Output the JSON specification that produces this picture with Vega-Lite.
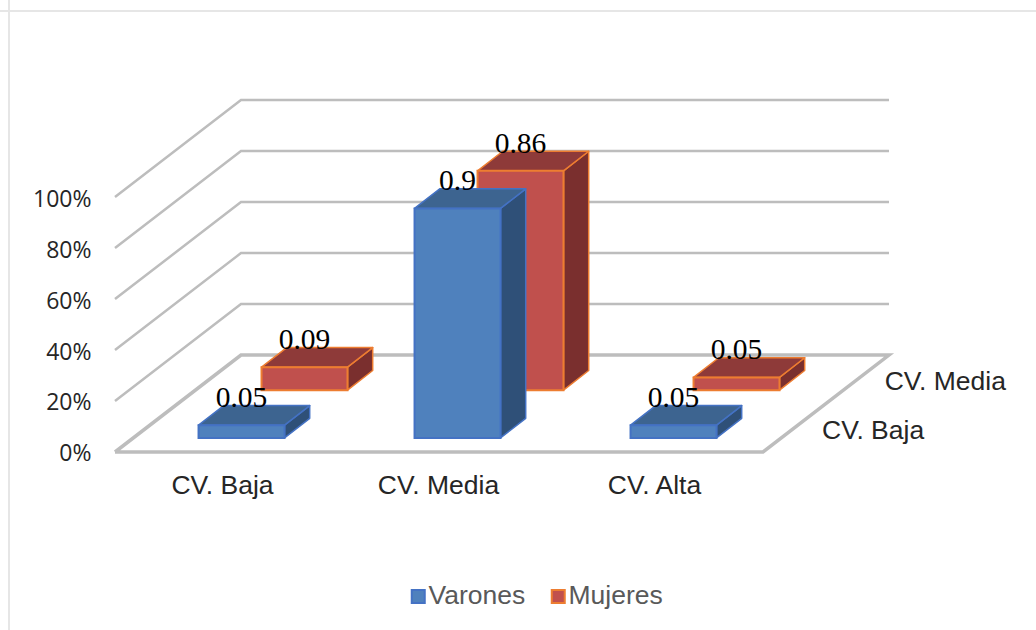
{
"$schema":"https://vega.github.io/schema/vega-lite/v6.json",
"width":1036,"height":630,"padding":0,"autosize":{"type":"none"},"background":"white",
"config":{"view":{"stroke":null}},
"datasets":{
"bars":[
{"category":"CV. Baja","series":"Varones","value":0.05},
{"category":"CV. Media","series":"Varones","value":0.9},
{"category":"CV. Alta","series":"Varones","value":0.05},
{"category":"CV. Baja","series":"Mujeres","value":0.09},
{"category":"CV. Media","series":"Mujeres","value":0.86},
{"category":"CV. Alta","series":"Mujeres","value":0.05}],
"walls":[
{"level":0.2,"position":0.5,"depth":0,"seq":1},{"level":0.2,"position":0.5,"depth":1,"seq":2},{"level":0.2,"position":3.5,"depth":1,"seq":3},
{"level":0.4,"position":0.5,"depth":0,"seq":1},{"level":0.4,"position":0.5,"depth":1,"seq":2},{"level":0.4,"position":3.5,"depth":1,"seq":3},
{"level":0.6,"position":0.5,"depth":0,"seq":1},{"level":0.6,"position":0.5,"depth":1,"seq":2},{"level":0.6,"position":3.5,"depth":1,"seq":3},
{"level":0.8,"position":0.5,"depth":0,"seq":1},{"level":0.8,"position":0.5,"depth":1,"seq":2},{"level":0.8,"position":3.5,"depth":1,"seq":3},
{"level":1.0,"position":0.5,"depth":0,"seq":1},{"level":1.0,"position":0.5,"depth":1,"seq":2},{"level":1.0,"position":3.5,"depth":1,"seq":3}],
"floor":[
{"level":0,"position":0.5,"depth":0,"seq":1},{"level":0,"position":3.5,"depth":0,"seq":2},{"level":0,"position":3.5,"depth":1,"seq":3},{"level":0,"position":0.5,"depth":1,"seq":4},{"level":0,"position":0.5,"depth":0,"seq":5}],
"depthLabels":[{"label":"CV. Baja","depth":0.143},{"label":"CV. Media","depth":0.64}]
},
"layer":[
{"data":{"values":[{}]},"mark":{"type":"rule","color":"#E6E6E6","strokeWidth":2},
 "encoding":{"y":{"datum":1.7294,"type":"quantitative","scale":{"domain":[-0.69804,1.77255]},"axis":{"title":null}}}},
{"data":{"values":[{}]},"mark":{"type":"rule","color":"#E6E6E6","strokeWidth":2},
 "encoding":{"x":{"datum":0.00926,"type":"quantitative","scale":{"domain":[-0.03241,4.76389]},"axis":{"title":null}}}},
{"data":{"name":"walls"},
 "transform":[{"calculate":"datum.position+0.5833*datum.depth","as":"px"},{"calculate":"datum.level+0.38*datum.depth","as":"py"}],
 "mark":{"type":"line","color":"#BDBDBD","strokeWidth":2.5,"strokeJoin":"miter"},
 "encoding":{
  "x":{"field":"px","type":"quantitative","scale":{"domain":[-0.03241,4.76389]},
   "axis":{"values":[1,2,3],"labelExpr":"datum.value==1?'CV. Baja':datum.value==2?'CV. Media':'CV. Alta'","domain":false,"ticks":false,"grid":false,"title":null,"offset":-158,"labelPadding":0,"labelOffset":-1,"labelFont":"Liberation Sans","labelFontSize":26.5,"labelColor":"#262626","labelOverlap":false,"labelFlush":false,"labelBound":false}},
  "y":{"field":"py","type":"quantitative","scale":{"domain":[-0.69804,1.77255]},
   "axis":{"values":[0,0.2,0.4,0.6,0.8,1],"format":".0%","domain":false,"ticks":false,"grid":false,"title":null,"offset":-95,"labelPadding":4,"labelOffset":2,"labelFont":"Open Sans","labelFontSize":23,"labelColor":"#262626","labelOverlap":false,"labelBound":false,"labelFlush":false}},
  "detail":{"field":"level"},
  "order":{"field":"seq"}}},
{"data":{"name":"floor"},
 "transform":[{"calculate":"datum.position+0.5833*datum.depth","as":"px"},{"calculate":"datum.level+0.38*datum.depth","as":"py"}],
 "mark":{"type":"line","color":"#BDBDBD","strokeWidth":3.5,"strokeJoin":"miter"},
 "encoding":{
  "x":{"field":"px","type":"quantitative","scale":{"domain":[-0.03241,4.76389]},"axis":{"title":null}},
  "y":{"field":"py","type":"quantitative","scale":{"domain":[-0.69804,1.77255]},"axis":{"title":null}},
  "order":{"field":"seq"}}},
{"data":{"name":"depthLabels"},
 "transform":[{"calculate":"3.5+0.5833*datum.depth","as":"px"},{"calculate":"0.3843*datum.depth","as":"py"}],
 "mark":{"type":"text","align":"left","baseline":"middle","dx":41,"dy":-7,"font":"Liberation Sans","fontSize":26.5,"color":"#262626"},
 "encoding":{
  "x":{"field":"px","type":"quantitative","scale":{"domain":[-0.03241,4.76389]},"axis":{"title":null}},
  "y":{"field":"py","type":"quantitative","scale":{"domain":[-0.69804,1.77255]},"axis":{"title":null}},
  "text":{"field":"label"}}},
{"data":{"name":"bars"},
 "transform":[
  {"calculate":"indexof(['CV. Baja','CV. Media','CV. Alta'],datum.category)+1","as":"idx"},
  {"calculate":"datum.series=='Varones'?0.147:0.647","as":"d"},
  {"calculate":"datum.idx+0.5833*datum.d","as":"xc"},
  {"calculate":"datum.xc-0.199","as":"xl"},
  {"calculate":"datum.xc+0.199","as":"xr"},
  {"calculate":"0.375*datum.d","as":"base"},
  {"calculate":"datum.base+datum.value","as":"top"},
  {"calculate":"[0,1]","as":"t"},
  {"flatten":["t"]},
  {"calculate":"datum.xr+0.5833*0.2*datum.t","as":"sx"},
  {"calculate":"datum.base+0.3843*0.2*datum.t","as":"sy"},
  {"calculate":"datum.top+0.3843*0.2*datum.t","as":"sy2"},
  {"calculate":"datum.xl+0.5833*0.2*datum.t","as":"tx"},
  {"calculate":"datum.xr+0.5833*0.2*datum.t","as":"tx2"}
 ],
 "layer":[
  {"transform":[{"filter":"datum.series=='Mujeres'"}],
   "mark":{"type":"area","orient":"vertical","fill":"#7A2F2E","stroke":"#ED7D31","strokeWidth":1.5,"strokeJoin":"round"},
   "encoding":{"x":{"field":"sx","type":"quantitative","scale":{"domain":[-0.03241,4.76389]},"axis":{"title":null}},
    "y":{"field":"sy","type":"quantitative","scale":{"domain":[-0.69804,1.77255]},"axis":{"title":null},"stack":null},"y2":{"field":"sy2"},"detail":{"field":"category"}}},
  {"transform":[{"filter":"datum.series=='Mujeres'"}],
   "mark":{"type":"area","orient":"horizontal","fill":"#8E3A39","stroke":"#ED7D31","strokeWidth":1.5,"strokeJoin":"round"},
   "encoding":{"y":{"field":"sy2","type":"quantitative","scale":{"domain":[-0.69804,1.77255]},"axis":{"title":null}},
    "x":{"field":"tx","type":"quantitative","scale":{"domain":[-0.03241,4.76389]},"axis":{"title":null},"stack":null},"x2":{"field":"tx2"},"detail":{"field":"category"}}},
  {"transform":[{"filter":"datum.series=='Mujeres'&&datum.t==0"}],
   "mark":{"type":"rect","strokeWidth":2},
   "encoding":{"x":{"field":"xl","type":"quantitative","scale":{"domain":[-0.03241,4.76389]},"axis":{"title":null}},"x2":{"field":"xr"},
    "y":{"field":"base","type":"quantitative","scale":{"domain":[-0.69804,1.77255]},"axis":{"title":null}},"y2":{"field":"top"},
    "color":{"field":"series","type":"nominal","scale":{"domain":["Varones","Mujeres"],"range":["#4F81BD","#C0504D"]},"legend":{"orient":"none","legendX":405,"legendY":583,"direction":"horizontal","columns":2,"title":null,"symbolType":"square","symbolSize":169,"symbolStrokeWidth":2,"symbolOpacity":1,"labelFont":"Liberation Sans","labelFontSize":26.5,"labelColor":"#595959","labelOffset":-3,"columnPadding":19,"labelLimit":200}},
    "stroke":{"field":"series","type":"nominal","scale":{"domain":["Varones","Mujeres"],"range":["#4472C4","#ED7D31"]},"legend":{"orient":"none","legendX":405,"legendY":583,"direction":"horizontal","columns":2,"title":null,"symbolType":"square","symbolSize":169,"symbolStrokeWidth":2,"symbolOpacity":1,"labelFont":"Liberation Sans","labelFontSize":26.5,"labelColor":"#595959","labelOffset":-3,"columnPadding":19,"labelLimit":200}}}},
  {"transform":[{"filter":"datum.series=='Varones'"}],
   "mark":{"type":"area","orient":"vertical","fill":"#2F5078","stroke":"#4472C4","strokeWidth":1.5,"strokeJoin":"round"},
   "encoding":{"x":{"field":"sx","type":"quantitative","scale":{"domain":[-0.03241,4.76389]},"axis":{"title":null}},
    "y":{"field":"sy","type":"quantitative","scale":{"domain":[-0.69804,1.77255]},"axis":{"title":null},"stack":null},"y2":{"field":"sy2"},"detail":{"field":"category"}}},
  {"transform":[{"filter":"datum.series=='Varones'"}],
   "mark":{"type":"area","orient":"horizontal","fill":"#3D6490","stroke":"#4472C4","strokeWidth":1.5,"strokeJoin":"round"},
   "encoding":{"y":{"field":"sy2","type":"quantitative","scale":{"domain":[-0.69804,1.77255]},"axis":{"title":null}},
    "x":{"field":"tx","type":"quantitative","scale":{"domain":[-0.03241,4.76389]},"axis":{"title":null},"stack":null},"x2":{"field":"tx2"},"detail":{"field":"category"}}},
  {"transform":[{"filter":"datum.series=='Varones'&&datum.t==0"}],
   "mark":{"type":"rect","strokeWidth":2},
   "encoding":{"x":{"field":"xl","type":"quantitative","scale":{"domain":[-0.03241,4.76389]},"axis":{"title":null}},"x2":{"field":"xr"},
    "y":{"field":"base","type":"quantitative","scale":{"domain":[-0.69804,1.77255]},"axis":{"title":null}},"y2":{"field":"top"},
    "color":{"field":"series","type":"nominal","scale":{"domain":["Varones","Mujeres"],"range":["#4F81BD","#C0504D"]},"legend":{"orient":"none","legendX":405,"legendY":583,"direction":"horizontal","columns":2,"title":null,"symbolType":"square","symbolSize":169,"symbolStrokeWidth":2,"symbolOpacity":1,"labelFont":"Liberation Sans","labelFontSize":26.5,"labelColor":"#595959","labelOffset":-3,"columnPadding":19,"labelLimit":200}},
    "stroke":{"field":"series","type":"nominal","scale":{"domain":["Varones","Mujeres"],"range":["#4472C4","#ED7D31"]},"legend":{"orient":"none","legendX":405,"legendY":583,"direction":"horizontal","columns":2,"title":null,"symbolType":"square","symbolSize":169,"symbolStrokeWidth":2,"symbolOpacity":1,"labelFont":"Liberation Sans","labelFontSize":26.5,"labelColor":"#595959","labelOffset":-3,"columnPadding":19,"labelLimit":200}}}},
  {"transform":[{"filter":"datum.t==0"}],
   "mark":{"type":"text","baseline":"alphabetic","dy":-18,"font":"Liberation Serif","fontSize":29.5,"color":"#000000"},
   "encoding":{"x":{"field":"xc","type":"quantitative","scale":{"domain":[-0.03241,4.76389]},"axis":{"title":null}},
    "y":{"field":"top","type":"quantitative","scale":{"domain":[-0.69804,1.77255]},"axis":{"title":null}},
    "text":{"field":"value","type":"quantitative","format":".2~f"}}}
 ]}
]}
